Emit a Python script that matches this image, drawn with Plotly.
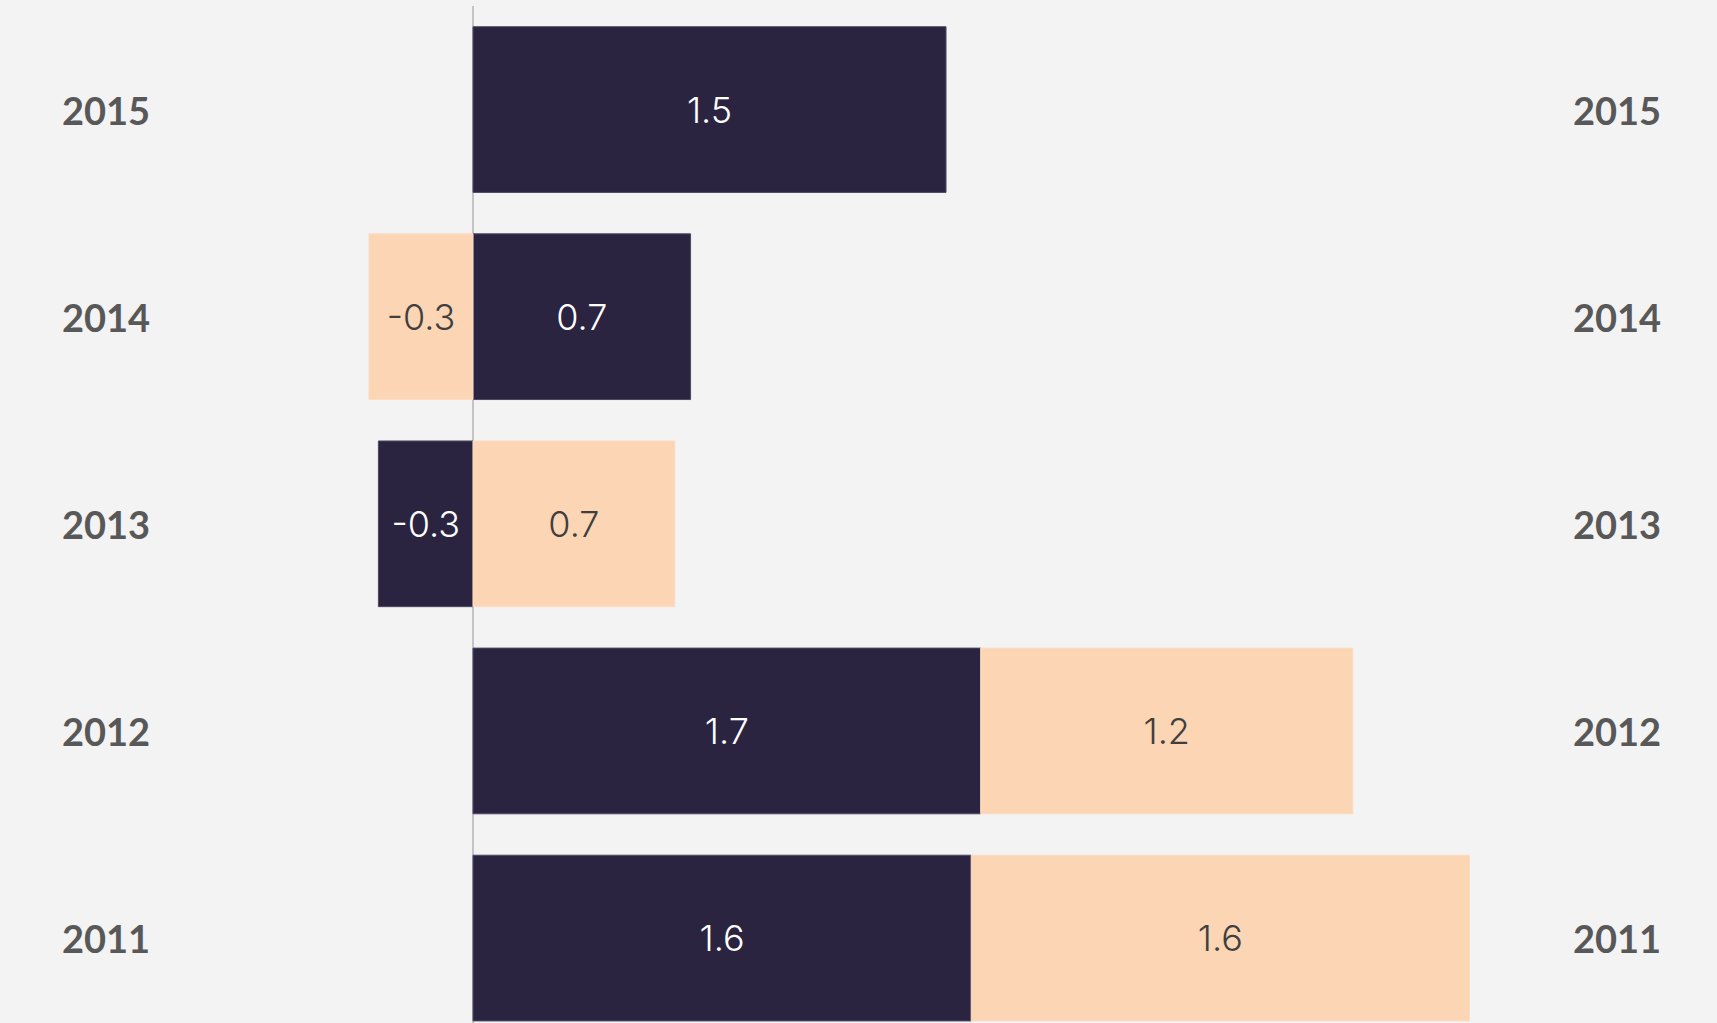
import plotly.graph_objects as go

years = ["2011", "2012", "2013", "2014", "2015"]
dark_values = [1.58, 1.61, -0.30, 0.69, 1.50]
dark_labels = ["1.6", "1.7", "-0.3", "0.7", "1.5"]
peach_values = [1.58, 1.18, 0.64, -0.33, None]
peach_labels = ["1.6", "1.2", "0.7", "-0.3", ""]

DARK = "#2a2440"
PEACH = "#fcd5b5"
BG = "#f3f3f3"
GREY = "#585858"
LABEL_FONT = "Inter"

fig = go.Figure()
fig.add_trace(go.Bar(
    y=years, x=dark_values, orientation="h",
    marker=dict(color=DARK, line=dict(color="#4d4863", width=1)),
    text=dark_labels, texttemplate="%{text}", textposition="inside",
    insidetextanchor="middle", textangle=0, constraintext="none",
    textfont=dict(family=LABEL_FONT, size=36, color="#ffffff", weight=300),
    hoverinfo="skip", showlegend=False,
))
fig.add_trace(go.Bar(
    y=years, x=peach_values, orientation="h",
    marker=dict(color=PEACH, line=dict(color="#fbdcc4", width=1)),
    text=peach_labels, texttemplate="%{text}", textposition="inside",
    insidetextanchor="middle", textangle=0, constraintext="none",
    textfont=dict(family=LABEL_FONT, size=36, color="#3f3f3f", weight=300),
    hoverinfo="skip", showlegend=False,
))

for i, y in enumerate(years):
    for xp in (0.035, 0.915):
        fig.add_annotation(
            x=xp, xref="paper", y=i, yref="y", text="<b>" + y + "</b>",
            showarrow=False, xanchor="left", yanchor="middle",
            font=dict(family="Lato", size=38, color=GREY),
        )

fig.update_layout(
    width=1717, height=1023,
    margin=dict(l=0, r=0, t=6, b=0),
    paper_bgcolor=BG, plot_bgcolor=BG,
    barmode="relative", bargap=0.2,
    xaxis=dict(range=[-1.5, 3.945], showgrid=False, showticklabels=False,
               zeroline=True, zerolinecolor="#c4c4c4", zerolinewidth=2,
               fixedrange=True),
    yaxis=dict(type="category", categoryorder="array", categoryarray=years,
               range=[-0.41, 4.5], showgrid=False, showticklabels=False,
               zeroline=False, fixedrange=True),
)

fig.write_html("out.html")
